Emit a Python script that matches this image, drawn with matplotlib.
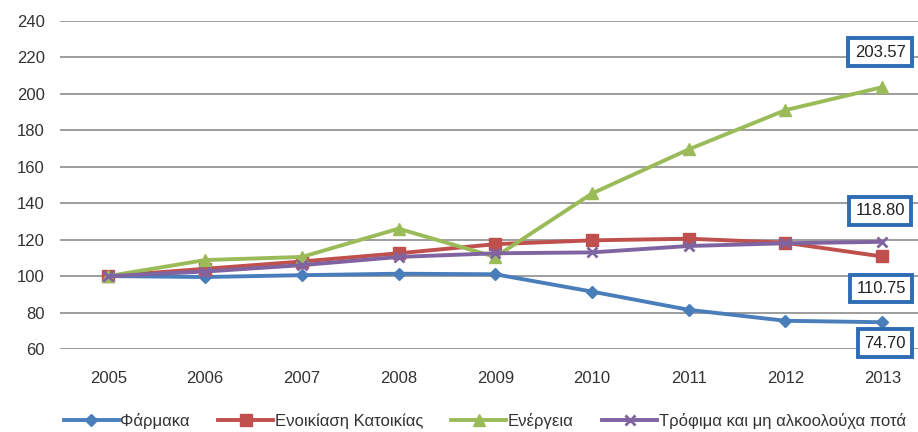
import matplotlib.pyplot as plt
from matplotlib import font_manager

years = ['2005', '2006', '2007', '2008', '2009', '2010', '2011', '2012', '2013']
farmaka = [100, 99.5, 100.5, 101.3, 101.0, 91.5, 81.5, 75.5, 74.70]
enoikiasi = [100, 104, 108, 112.5, 117.5, 119.6, 120.5, 118.3, 110.75]
energeia = [100, 108.8, 110.5, 126, 110.5, 145.3, 169.5, 191, 203.57]
trofima = [100, 102.5, 106, 110.5, 112.5, 113, 116.5, 118, 118.80]

names = ['Φάρμακα', 'Ενοικίαση Κατοικίας', 'Ενέργεια', 'Τρόφιμα και μη αλκοολούχα ποτά']
colors = ['#4A7EBB', '#C0504D', '#9BBB59', '#8064A2']
markers = ['D', 's', '^', 'x']

# last-year labels and where their boxes sit (pixels from the point)
label_offsets = [(3, -21), (-1, -32), (-2, 35), (-2, 31)]

avail = {f.name for f in font_manager.fontManager.ttflist}
fam = 'Liberation Sans' if 'Liberation Sans' in avail else 'DejaVu Sans'
plt.rcParams['font.family'] = [fam, 'DejaVu Sans']

fig = plt.figure(figsize=(9.18, 4.32), dpi=100)
ax = fig.add_axes([0.0654, 0.192, 0.9346, 0.760])

x = list(range(len(years)))
series = [farmaka, enoikiasi, energeia, trofima]
for vals, name, c, m in zip(series, names, colors, markers):
    ms = 6.5 if m == 'D' else (8 if m != 'x' else 7)
    ax.plot(x, vals, color=c, lw=2.8, marker=m, ms=ms, mew=2 if m == 'x' else 1,
            mfc=c, mec=c, label=name, zorder=3)

for vals, (dx, dy) in zip(series, label_offsets):
    ax.annotate(f'{vals[-1]:.2f}', (x[-1], vals[-1]), xytext=(dx, dy),
                textcoords='offset pixels', ha='center', va='center',
                fontsize=12, color='#222222', zorder=5,
                bbox=dict(boxstyle='square,pad=0.38', fc='white', ec='#2E6DB4', lw=2.8))

ax.set_ylim(60, 240)
ax.set_xlim(-0.5, 8.37)
ax.set_yticks(range(60, 241, 20))
ax.set_xticks(x)
ax.set_xticklabels(years)
ax.yaxis.grid(True, color='#959595', lw=1.3)
ax.set_axisbelow(True)
for s in ax.spines.values():
    s.set_visible(False)
ax.tick_params(axis='both', length=0, labelsize=12, colors='#333333')
ax.tick_params(axis='y', pad=11)
ax.tick_params(axis='x', pad=16)

fig.legend(loc='center', bbox_to_anchor=(0.528, 0.026), ncol=4, frameon=False,
           fontsize=12, handlelength=3.3, handletextpad=0.1, columnspacing=1.7,
           labelcolor='#333333')

fig.savefig('out.png', dpi=100)
